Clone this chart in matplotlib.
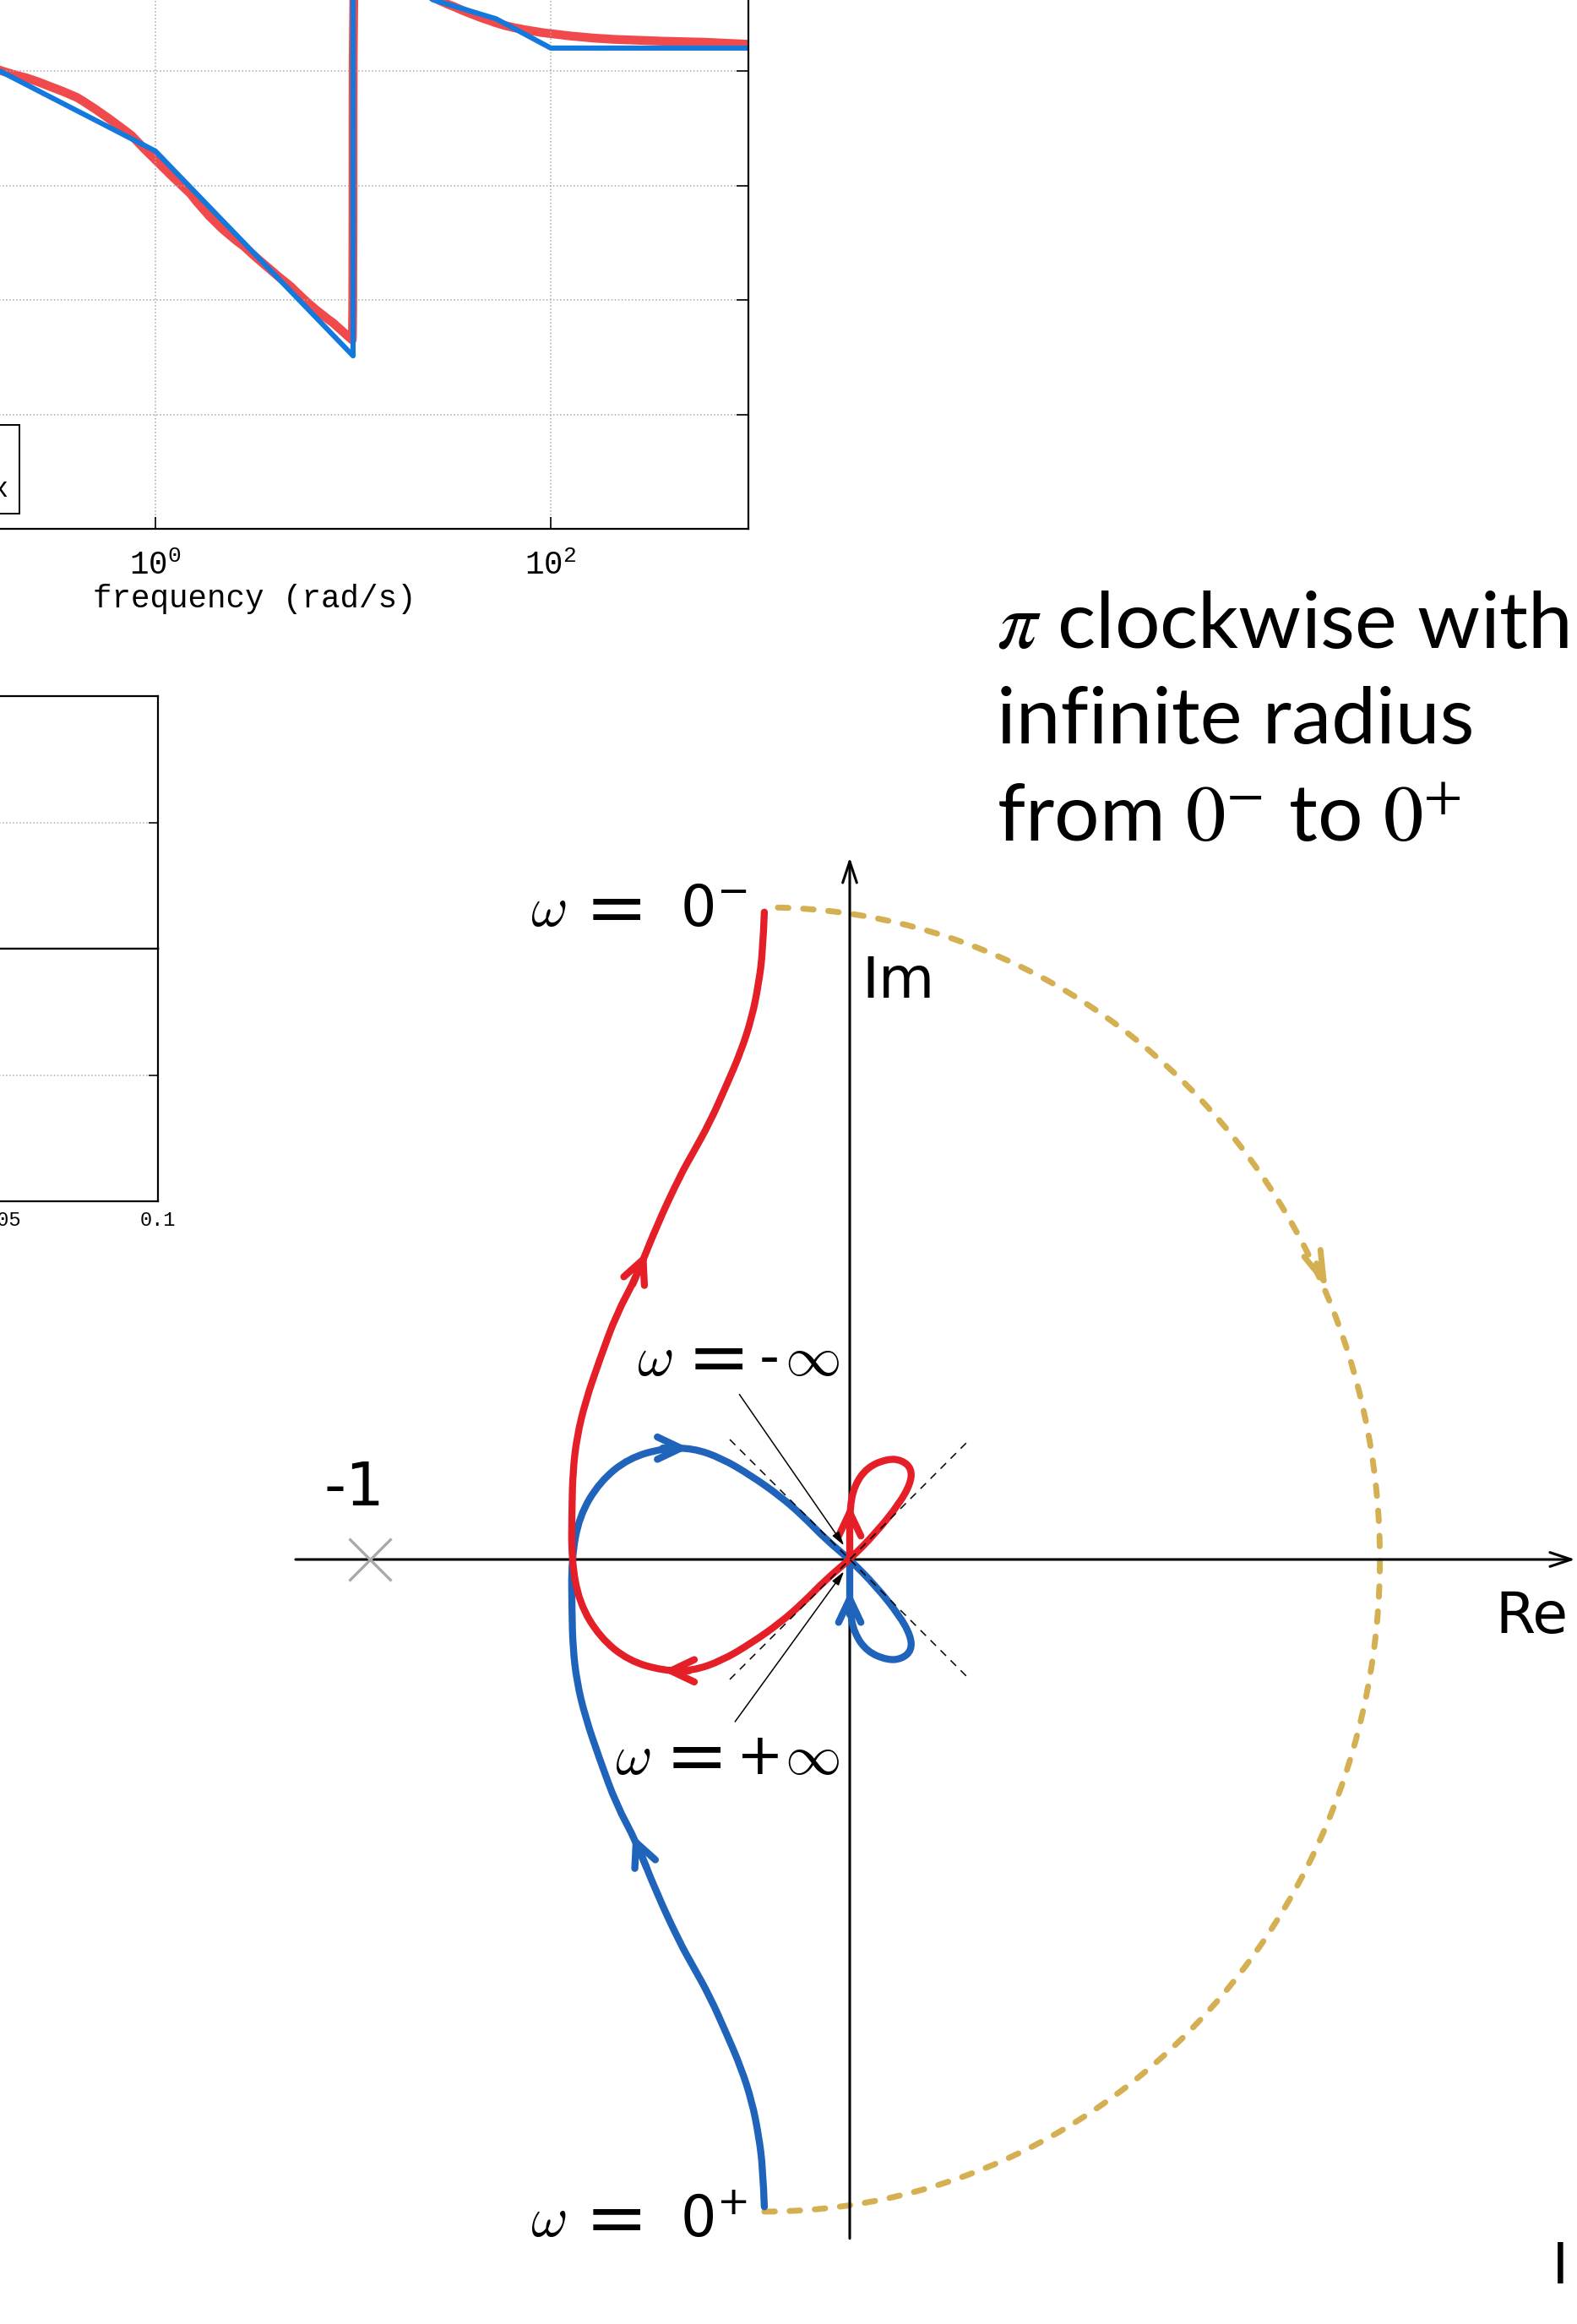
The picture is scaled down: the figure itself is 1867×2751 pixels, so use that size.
import matplotlib
matplotlib.use('Agg')
import matplotlib.pyplot as plt
from matplotlib.patches import Arc, PathPatch
from matplotlib.path import Path
from matplotlib.lines import Line2D
from matplotlib.ticker import NullLocator

# ---- data ----
# Bode phase (deg): smooth curve and straight-line approximation
w_exact = [0.01, 0.05, 0.158, 0.286, 0.517, 1, 2, 3.6, 6.1, 9.8, 10, 10,
           12, 15, 20, 25, 40, 60, 100, 200, 1000]
ph_exact = [60, 25, 0, -10.8, -30.9, -70.8, -121.8, -153.7, -185.5, -211, -212, 148,
            120, 95, 72, 57, 44, 34.4, 28.7, 24.2, 21]
w_approx = [0.01, 0.1, 1, 10, 10, 15, 25.3, 52.9, 100, 1000]
ph_approx = [97, 17, -63, -224, 136, 85, 56, 41, 18, 18]
bode_labels = ['exact', 'asymptotic approx']

# Nyquist branch for w from 0+ to +inf (the w<0 branch is its mirror image)
pos_re = [-0.178, -0.181, -0.190, -0.204, -0.227, -0.257, -0.292, -0.327, -0.354,
          -0.403, -0.445, -0.486, -0.521, -0.551, -0.569, -0.577, -0.579, -0.580,
          -0.564, -0.521, -0.461, -0.388, -0.327, -0.267, -0.206, -0.145, -0.097,
          -0.049, 0.0, 0.055, 0.103, 0.127, 0.129, 0.109, 0.079, 0.036, 0.009,
          0.0, 0.0, 0.0]
pos_im = [-1.349, -1.269, -1.199, -1.129, -1.058, -0.988, -0.910, -0.847, -0.799,
          -0.694, -0.588, -0.512, -0.417, -0.329, -0.254, -0.183, -0.110, 0.0,
          0.090, 0.162, 0.211, 0.232, 0.232, 0.211, 0.175, 0.132, 0.090,
          0.041, 0.0, -0.056, -0.116, -0.159, -0.189, -0.207, -0.210, -0.192, -0.153,
          -0.104, -0.050, 0.0]
neg_re = list(pos_re)
neg_im = [-v for v in pos_im]

# direction arrows on the w>0 branch: (tail, tip)
pos_arrows = [((-0.424, -0.641), (-0.452, -0.574)),
              ((-0.390, 0.232), (-0.335, 0.232)),
              ((0.0, -0.115), (0.0, -0.065))]
# w<0 branch runs the other way
neg_arrows = [((b[0], -b[1]), (a[0], -a[1])) for a, b in pos_arrows]

critical_point = (-1.0, 0.0)
arc_center = (-0.178, 0.0)
arc_width, arc_height = 2.566, 2.718

# ---- layout ----
W, H = 1867, 2751
ORX, ORY, UNIT = 1006, 1846, 568   # pixel position of the origin and px per unit

RED = '#e41f28'
BLUE = '#1f63ba'
GOLD = '#d4b052'
BODE_RED = '#f04a4c'
BODE_BLUE = '#1479dd'

plt.rcParams['font.family'] = ['Liberation Mono', 'DejaVu Sans']

fig = plt.figure(figsize=(W / 100, H / 100), dpi=100)


def px_box(x0, y0, x1, y1):
    return [x0 / W, 1 - y1 / H, (x1 - x0) / W, (y1 - y0) / H]


def smooth(xs, ys):
    # quadratic bezier through the read points (points act as control points)
    verts = [(xs[0], ys[0])]
    codes = [Path.MOVETO]
    for i in range(1, len(xs) - 1):
        verts += [(xs[i], ys[i]), ((xs[i] + xs[i + 1]) / 2, (ys[i] + ys[i + 1]) / 2)]
        codes += [Path.CURVE3, Path.CURVE3]
    verts.append((xs[-1], ys[-1]))
    codes.append(Path.LINETO)
    return Path(verts, codes)


# ---- Nyquist diagram over the whole figure ----
ax = fig.add_axes([0, 0, 1, 1])
ax.set_xlim(-ORX / UNIT, (W - ORX) / UNIT)
ax.set_ylim(-(H - ORY) / UNIT, ORY / UNIT)
ax.axis('off')


def put(x_px, base_px, s, size=48, **kw):
    ax.text((x_px - ORX) / UNIT, (ORY - base_px) / UNIT, s, fontsize=size,
            ha='left', va='baseline', **kw)


# axes
ax.annotate('', xy=(1.512, 0), xytext=(-1.155, 0), annotation_clip=False,
            arrowprops=dict(arrowstyle='->,head_length=1.8,head_width=0.6', lw=2.2,
                            color='black', shrinkA=0, shrinkB=0, mutation_scale=10))
ax.annotate('', xy=(0, 1.463), xytext=(0, -1.415), annotation_clip=False,
            arrowprops=dict(arrowstyle='->,head_length=1.8,head_width=0.6', lw=2.2,
                            color='black', shrinkA=0, shrinkB=0, mutation_scale=10))

# infinite-radius semicircle
ax.add_patch(Arc(arc_center, arc_width, arc_height, theta1=-90, theta2=90,
                 color=GOLD, lw=5, linestyle=(0, (1.8, 2.5)), capstyle='round', zorder=2))
ax.annotate('', xy=(0.996, 0.562), xytext=(0.973, 0.617),
            arrowprops=dict(arrowstyle='->,head_length=2.5,head_width=0.75', lw=5,
                            color=GOLD, shrinkA=0, shrinkB=0, mutation_scale=10,
                            capstyle='round', joinstyle='round'))

# branches
LW = 6.0
ax.add_patch(PathPatch(smooth(pos_re, pos_im), fill=False, edgecolor=BLUE, lw=LW,
                       capstyle='round', joinstyle='round', zorder=3))
ax.add_patch(PathPatch(smooth(neg_re, neg_im), fill=False, edgecolor=RED, lw=LW,
                       capstyle='round', joinstyle='round', zorder=4))
for arrows, col, z in ((pos_arrows, BLUE, 3), (neg_arrows, RED, 4)):
    for tail, tip in arrows:
        ax.annotate('', xy=tip, xytext=tail, zorder=z,
                    arrowprops=dict(arrowstyle='->,head_length=2.0,head_width=0.95', lw=LW,
                                    color=col, shrinkA=0, shrinkB=0, mutation_scale=10,
                                    capstyle='round', joinstyle='round'))

# asymptote guides
ax.plot([-0.25, 0.25], [0.25, -0.25], color='black', lw=1.1, ls=(0, (6, 5)), zorder=5)
ax.plot([-0.25, 0.25], [-0.25, 0.25], color='black', lw=1.1, ls=(0, (6, 5)), zorder=5)

# pointers for w = -inf / +inf
for tail, tip in (((-0.230, 0.344), (-0.012, 0.029)), ((-0.239, -0.338), (-0.012, -0.025))):
    ax.annotate('', xy=tip, xytext=tail, zorder=6,
                arrowprops=dict(arrowstyle='-|>,head_length=1.0,head_width=0.28', lw=1.1,
                                color='black', shrinkA=0, shrinkB=0, mutation_scale=10))

# -1 point
ax.plot(*critical_point, marker='x', ms=36, mew=2.4, color='#aaaaaa', zorder=5)

sans = ['DejaVu Sans']
ax.text(-1.033, 0.147, '-1', fontsize=52, family=sans, ha='center', va='center')
ax.text(0.025, 1.204, 'Im', fontsize=49, family=sans, ha='left', va='center')
ax.text(1.345, -0.120, 'Re', fontsize=49, family=sans, ha='left', va='center')

# w labels, built from pieces so the spacing follows the picture
for base, sup in ((1096, '-'), (2647, '+')):
    put(628, base, r'$\omega$', math_fontfamily='cm')
    put(693, base + 8, '=', size=64, family=sans)
    put(805, base, r'$0^{%s}$' % sup, math_fontfamily='dejavusans')
for base, x_w, x_eq, sign, x_sign in ((1628, 754, 814, '-', 899), (2100, 728, 788, '+', 872)):
    put(x_w, base, r'$\omega$', math_fontfamily='cm')
    put(x_eq, base + 8, '=', size=64, family=sans)
    put(x_sign, base, sign, family=sans)
    put(929, base, r'$\infty$', math_fontfamily='cm')

# note text
for txt, base in ((r'$\pi$ clockwise with', 766),
                  ('infinite radius', 880),
                  (r'from $0^{-}$ to $0^{+}$', 995)):
    fig.text(1180 / W, 1 - base / H, txt, fontsize=68, family=['Lato'],
             math_fontfamily='stix', va='baseline', ha='left')

fig.text(1838 / W, 1 - 2703 / H, 'I', fontsize=48, family=['Lato'], va='baseline')

# ---- Bode phase panel (cut by the top edge) ----
axb = fig.add_axes(px_box(-284, -51.5, 886, 626))
axb.set_xscale('log')
axb.add_patch(PathPatch(smooth(w_exact, ph_exact), fill=False, edgecolor=BODE_RED,
                        lw=7.5, capstyle='butt', joinstyle='round'))
axb.plot(w_approx, ph_approx, color=BODE_BLUE, lw=4.4)
axb.set_xlim(0.01, 1000)
axb.set_ylim(-360, 90)
axb.set_yticks([-360, -270, -180, -90, 0, 90])
axb.set_xticks([0.01, 1, 100])
axb.set_xticklabels([r'$\mathdefault{10^{-2}}$', r'$\mathdefault{10^{0}}$',
                     r'$\mathdefault{10^{2}}$'])
axb.xaxis.set_minor_locator(NullLocator())
axb.grid(True, ls=':', color='#a8a8a8', lw=1.1)
axb.tick_params(direction='in', length=10, width=1.2, top=True, right=True,
                labelsize=27, pad=18)
axb.set_xlabel('frequency (rad/s)', fontsize=27, labelpad=2)
for s in axb.spines.values():
    s.set_linewidth(1.6)
handles = [Line2D([], [], color=BODE_RED, lw=7.5), Line2D([], [], color=BODE_BLUE, lw=4.4)]
leg = axb.legend(handles, bode_labels, loc='lower right',
                 bbox_to_anchor=((23 + 284) / 1170, (626 - 608) / 677.5),
                 fontsize=24, frameon=True, fancybox=False, framealpha=1,
                 edgecolor='black', borderaxespad=0, handlelength=2)
leg.get_frame().set_linewidth(1.4)

# ---- stacked panels at the left (cut by the left edge) ----
for i, (y0, y1) in enumerate(((824, 1123), (1123, 1422))):
    a = fig.add_axes(px_box(-193, y0, 187, y1))
    a.set_xlim(0, 0.1)
    a.set_ylim(-1, 1)
    a.set_yticks([0])
    a.set_xticks([0, 0.05, 0.1])
    a.grid(True, axis='y', ls=':', color='#b0b0b0', lw=1.1)
    a.tick_params(direction='in', length=8, width=1.1, top=True, right=True,
                  labelsize=17, pad=8, labelleft=False)
    if i == 0:
        a.tick_params(labelbottom=False)
    else:
        a.set_xticklabels(['0', '0.05', '0.1'])
    for s in a.spines.values():
        s.set_linewidth(1.6)

fig.savefig('out.png', dpi=100)
